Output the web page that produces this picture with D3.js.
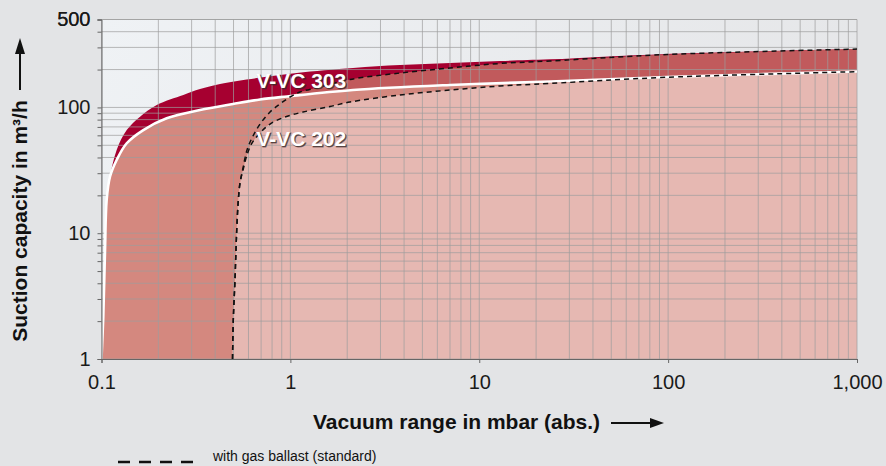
<!DOCTYPE html>
<html>
<head>
<meta charset="utf-8">
<script src="https://cdn.jsdelivr.net/npm/d3@7"></script>
<style>
  body { margin: 0; background: #e3e4e6; }
  svg { display: block; font-family: "Liberation Sans", Arial, sans-serif; }
</style>
</head>
<body>
<div class="chart"></div>
<script>
// suction capacity curves, [pressure mbar, m3/h]
var vvc303 = [[0.1,1],[0.1022,2.17],[0.1044,7.36],[0.1065,18.4],[0.1109,28.1],[0.1203,45.9],
  [0.136,66.1],[0.16,84.4],[0.196,104.5],[0.2712,125.5],[0.3323,140],[0.4241,153.5],[0.6634,171],
  [1.08,188],[2.146,206],[3.807,217],[7.0,225.5],[12.88,234],[23.7,241],[98.3,266],[1000,291]];

var vvc303Ballast = [[0.494,1],[0.4986,2.04],[0.509,4.25],[0.52,10.6],[0.5302,18.4],[0.5413,25.1],
  [0.5614,33],[0.5895,45.9],[0.6263,57.1],[0.6907,73.8],[0.7801,91.9],[0.881,106.5],[0.9954,121],
  [1.125,132.6],[1.436,145.3],[2.069,166.7],[3.807,187.7],[7.0,205.8],[12.88,223.5],[23.7,234],
  [98.3,263.5],[1000,291]];

var vvc202 = [[0.1,1],[0.1022,2.17],[0.1044,7.36],[0.1065,18.4],[0.1109,28.1],[0.1203,38.2],
  [0.136,51.9],[0.1665,66.1],[0.2214,81.9],[0.3323,95.4],[0.4969,106.5],[0.6907,115.6],[0.9597,122.2],
  [2.146,137.5],[7.0,150.8],[23.7,160.7],[98.3,174.5],[1000,193]];

var vvc202Ballast = [[0.494,1],[0.4986,2.04],[0.509,4.25],[0.52,10.6],[0.5302,18.4],[0.5413,25.1],
  [0.5614,31.8],[0.5895,41.9],[0.6263,52.1],[0.6907,62.6],[0.7801,73.8],[0.9366,83.9],[1.166,91.9],
  [1.621,101.7],[2.069,110.4],[3.807,125.5],[7.0,137.5],[12.88,148],[23.7,155],[98.3,173.6],[1000,192.3]];

var xTickValues = [0.1, 1, 10, 100, 1000];
var yLabelValues = [1, 10, 100, 500];
var labels = [{text: "V-VC 303", p: 0.66, q: 142}, {text: "V-VC 202", p: 0.66, q: 49}];

var width = 886, height = 466;
var plot = {left: 101.5, right: 857, top: 19.5, bottom: 359};

var xScale = d3.scaleLog().domain([0.1, 1000]).range([plot.left, plot.right]);
var yScale = d3.scaleLog().domain([1, 500]).range([plot.bottom, plot.top]);

// grid positions 1..9 per decade
var xGrid = [], yGrid = [];
[0.1, 1, 10, 100].forEach(function(d) { for (var i = 1; i < 10; i++) xGrid.push(+(d * i).toPrecision(3)); });
xGrid.push(1000);
[1, 10, 100].forEach(function(d) { for (var i = 1; i < 10; i++) if (d * i <= 500) yGrid.push(d * i); });
yGrid.push(500);

var svg = d3.select(".chart").append("svg")
  .attr("width", width)
  .attr("height", height);

var defs = svg.append("defs");
var grad = defs.append("linearGradient").attr("id", "bg").attr("x1", 0).attr("x2", 1).attr("y1", 0).attr("y2", 0.3);
grad.append("stop").attr("offset", "0%").attr("stop-color", "#eff2f5");
grad.append("stop").attr("offset", "100%").attr("stop-color", "#e5e6e8");
defs.append("clipPath").attr("id", "clip").append("rect")
  .attr("x", plot.left).attr("y", plot.top)
  .attr("width", plot.right - plot.left).attr("height", plot.bottom - plot.top);

svg.append("rect")
  .attr("x", plot.left).attr("y", plot.top)
  .attr("width", plot.right - plot.left).attr("height", plot.bottom - plot.top)
  .attr("fill", "url(#bg)");

var line = d3.line()
  .x(function(d) { return xScale(d[0]); })
  .y(function(d) { return yScale(d[1]); })
  .curve(d3.curveCatmullRom.alpha(0.5));

function areaPath(data) {
  var last = data[data.length - 1];
  return line(data) + "L" + xScale(last[0]) + "," + yScale(1) + "L" + xScale(data[0][0]) + "," + yScale(1) + "Z";
}

var fills = svg.append("g").attr("clip-path", "url(#clip)");
fills.append("path").attr("d", areaPath(vvc303)).attr("fill", "#a60030");
fills.append("path").attr("d", areaPath(vvc303Ballast)).attr("fill", "#c15a5c");
fills.append("path").attr("d", areaPath(vvc202)).attr("fill", "#d4887f");
fills.append("path").attr("d", areaPath(vvc202Ballast)).attr("fill", "#e6b8b2");

// grid
var grid = svg.append("g").attr("stroke", "#9d9d9d").attr("stroke-opacity", 0.7).attr("stroke-width", 1);
grid.selectAll(".vx").data(xGrid).enter().append("line")
  .attr("x1", function(d) { return xScale(d); }).attr("x2", function(d) { return xScale(d); })
  .attr("y1", plot.top).attr("y2", plot.bottom);
grid.selectAll(".hy").data(yGrid).enter().append("line")
  .attr("y1", function(d) { return yScale(d); }).attr("y2", function(d) { return yScale(d); })
  .attr("x1", plot.left).attr("x2", plot.right);

// curves
var curves = svg.append("g").attr("clip-path", "url(#clip)").attr("fill", "none");
curves.append("path").attr("d", line(vvc202)).attr("stroke", "#fff").attr("stroke-width", 2.6);
curves.append("path").attr("d", line(vvc303Ballast)).attr("stroke", "#111").attr("stroke-width", 1.5).attr("stroke-dasharray", "5,4");
curves.append("path").attr("d", line(vvc202Ballast)).attr("stroke", "#111").attr("stroke-width", 1.5).attr("stroke-dasharray", "5,4");

// labels
var lab = svg.append("g").attr("font-size", 21).attr("font-weight", "bold");
lab.selectAll(".sh").data(labels).enter().append("text")
  .attr("x", function(d) { return xScale(d.p) + 1; })
  .attr("y", function(d) { return yScale(d.q) + 1; })
  .attr("fill", "#3a2a2a").attr("fill-opacity", 0.75)
  .attr("stroke", "#3a2a2a").attr("stroke-opacity", 0.5).attr("stroke-width", 1)
  .text(function(d) { return d.text; });
lab.selectAll(".tx").data(labels).enter().append("text")
  .attr("x", function(d) { return xScale(d.p); })
  .attr("y", function(d) { return yScale(d.q); })
  .attr("fill", "#fff")
  .text(function(d) { return d.text; });

// axes
var yAxis = d3.axisLeft(yScale)
  .tickValues(yGrid)
  .tickSize(4)
  .tickPadding(7)
  .tickFormat(function(d) { return yLabelValues.indexOf(d) >= 0 ? d : ""; });
var xAxis = d3.axisBottom(xScale)
  .tickValues(xTickValues)
  .tickSize(4)
  .tickPadding(12)
  .tickFormat(d3.format(","));

var gy = svg.append("g").attr("transform", "translate(" + plot.left + ",0)").call(yAxis);
var gx = svg.append("g").attr("transform", "translate(0," + plot.bottom + ")").call(xAxis);
[gx, gy].forEach(function(g) {
  g.select(".domain").attr("stroke", "#666");
  g.selectAll(".tick line").attr("stroke", "#666");
  g.selectAll(".tick text").attr("fill", "#1a1a1a").style("font-size", "20px")
    .style("font-family", "'Liberation Sans', Arial, sans-serif");
});

// axis titles with arrows
svg.append("text")
  .attr("x", 313).attr("y", 429)
  .attr("font-size", 21).attr("font-weight", "bold").attr("fill", "#111")
  .text("Vacuum range in mbar (abs.)");
svg.append("line").attr("x1", 611).attr("x2", 652).attr("y1", 423).attr("y2", 423)
  .attr("stroke", "#111").attr("stroke-width", 2);
svg.append("path").attr("d", "M650,418 L664,423 L650,428 Z").attr("fill", "#111");

svg.append("text")
  .attr("transform", "translate(27,221) rotate(-90)")
  .attr("text-anchor", "middle")
  .attr("font-size", 21).attr("font-weight", "bold").attr("fill", "#111")
  .text("Suction capacity in m³/h");
svg.append("line").attr("x1", 20).attr("x2", 20).attr("y1", 90).attr("y2", 52)
  .attr("stroke", "#111").attr("stroke-width", 2);
svg.append("path").attr("d", "M15,54 L20,38 L25,54 Z").attr("fill", "#111");

// legend
svg.append("line").attr("x1", 118).attr("x2", 195).attr("y1", 462).attr("y2", 462)
  .attr("stroke", "#111").attr("stroke-width", 2.5).attr("stroke-dasharray", "12,9");
svg.append("text").attr("x", 213).attr("y", 461)
  .attr("font-size", 14).attr("fill", "#111")
  .text("with gas ballast (standard)");
</script>
</body>
</html>
